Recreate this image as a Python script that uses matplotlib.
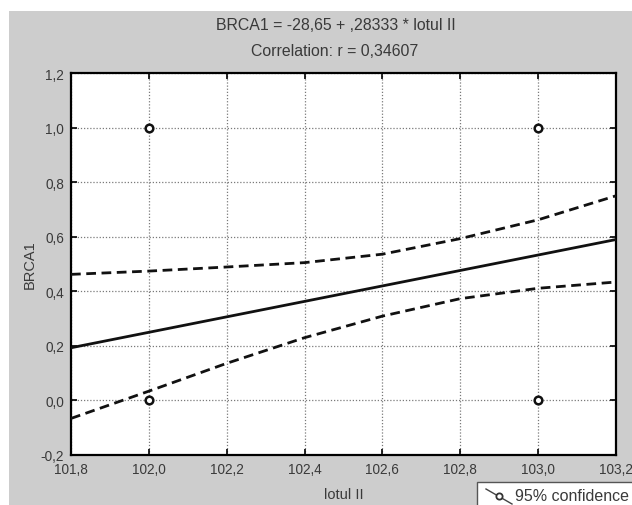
import matplotlib
matplotlib.use("Agg")
import matplotlib.pyplot as plt
from matplotlib.patches import Rectangle
from matplotlib.lines import Line2D

plt.rcParams['font.family'] = ['Liberation Sans', 'DejaVu Sans']

# Observations
obs_x = [102.0, 102.0, 103.0, 103.0]
obs_y = [1.0, 0.0, 1.0, 0.0]

# Fitted line BRCA1 = -28.65 + 0.28333 * lotul II
intercept = -28.65
slope = 0.28333
line_x = [101.8, 103.2]

# 95% confidence band
band_x = [101.8, 102.0, 102.2, 102.4, 102.6, 102.8, 103.0, 103.2]
band_upper = [0.462, 0.474, 0.489, 0.505, 0.536, 0.593, 0.662, 0.750]
band_lower = [-0.066, 0.034, 0.136, 0.230, 0.309, 0.373, 0.411, 0.434]

x_ticks = [101.8, 102.0, 102.2, 102.4, 102.6, 102.8, 103.0, 103.2]
y_ticks = [-0.2, 0.0, 0.2, 0.4, 0.6, 0.8, 1.0, 1.2]

W, H = 632, 506
fig = plt.figure(figsize=(W / 100, H / 100), dpi=100)
fig.patch.set_facecolor('white')

# gray panel behind the plot
fig.patches.append(Rectangle((9 / W, 0), 1 - 9 / W, 1 - 12 / H,
                             transform=fig.transFigure, facecolor='#cdcdcd',
                             edgecolor='none', zorder=-5))

ax = fig.add_axes([71 / W, 1 - 456 / H, (616 - 71) / W, (456 - 74) / H])
ax.set_facecolor('white')
ax.set_xlim(101.8, 103.2)
ax.set_ylim(-0.2, 1.2)

txt = '#3a3a3a'
ax.set_xticks(x_ticks)
ax.set_yticks(y_ticks)
ax.set_xticklabels([f"{v:.1f}".replace('.', ',') for v in x_ticks], color=txt, fontsize=9.8)
ax.set_yticklabels([f"{v:.1f}".replace('.', ',') for v in y_ticks], color=txt, fontsize=9.8)
ax.tick_params(direction='in', length=4, width=1.2, top=True, right=True, pad=5, colors='black',
               labelcolor=txt)
ax.grid(True, linestyle=(0, (1, 1.5)), color='#7a7a7a', linewidth=0.9)
for s in ax.spines.values():
    s.set_linewidth(1.6)
    s.set_color('black')

ax.plot(line_x, [intercept + slope * v for v in line_x], color='#111111', lw=2.0, zorder=3)
ax.plot(band_x, band_upper, color='#111111', lw=2.0, ls=(0, (3.5, 2)), zorder=3)
ax.plot(band_x, band_lower, color='#111111', lw=2.0, ls=(0, (3.5, 2)), zorder=3)
ax.plot(obs_x, obs_y, 'o', ms=5.5, mfc='white', mec='#111111', mew=1.8, zorder=4,
        clip_on=False)

ax.set_xlabel('lotul II', color=txt, fontsize=10.5, labelpad=8)
ax.set_ylabel('BRCA1', color=txt, fontsize=10.5, labelpad=3)

fig.text(336 / W, 1 - 26 / H, 'BRCA1 = -28,65 + ,28333 * lotul II',
         ha='center', va='center', color=txt, fontsize=11.4)
fig.text(335 / W, 1 - 51 / H, 'Correlation: r = 0,34607',
         ha='center', va='center', color=txt, fontsize=11.4)

# legend box
fig.patches.append(Rectangle((477 / W, -0.01), 1, (506 - 483) / H + 0.01,
                             transform=fig.transFigure, facecolor='white',
                             edgecolor='#555555', linewidth=1.0, zorder=5))
fig.lines.append(Line2D([486 / W, 512 / W], [1 - 490 / H, 1 - 505 / H],
                        transform=fig.transFigure, color='#444444', lw=1.0, zorder=6))
fig.lines.append(Line2D([499 / W], [1 - 497 / H], transform=fig.transFigure,
                        marker='o', ms=4.5, mfc='white', mec='#333333', mew=1.3, zorder=7))
fig.text(515 / W, 1 - 497 / H, '95% confidence', ha='left', va='center',
         color=txt, fontsize=11.5, zorder=8)

fig.savefig('out.png', dpi=100)
